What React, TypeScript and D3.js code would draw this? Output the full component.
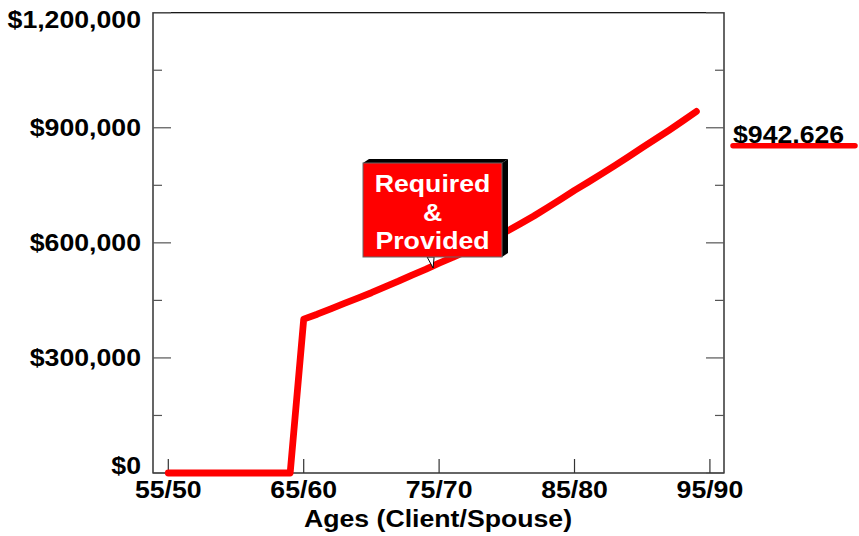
import React from "react";
import * as d3 from "d3";

// Client ages and required capital for each year
const ages: number[] = [
  55, 56, 57, 58, 59, 60, 61, 62, 63, 64,
  65, 66, 67, 68, 69, 70, 71, 72, 73, 74,
  75, 76, 77, 78, 79, 80, 81, 82, 83, 84,
  85, 86, 87, 88, 89, 90, 91, 92, 93, 94,
];
const required: number[] = [
  0, 0, 0, 0, 0, 0, 0, 0, 0, 0,
  401000, 414000, 428000, 442000, 456000, 470000, 485000, 500000, 516000, 531000,
  547000, 562000, 578000, 595000, 612000, 630000, 650000, 670000, 692000, 714000,
  737000, 758000, 780000, 802000, 825000, 848000, 871000, 894000, 918000, 942626,
];

const xTickAges: number[] = [55, 65, 75, 85, 95];
const xTickLabels: string[] = ["55/50", "65/60", "75/70", "85/80", "95/90"];
const yMajorTicks: number[] = [0, 300000, 600000, 900000, 1200000];
const yMinorTicks: number[] = [150000, 450000, 750000, 1050000];
const finalLabel = "$942,626";
const calloutLines: string[] = ["Required", "&", "Provided"];

const W = 859;
const H = 536;
const left = 153;
const right = 724;
const top = 12.7;
const bottom = 473;

const FONT = "'Liberation Sans', Arial, Helvetica, sans-serif";
const FS = 23;
const STRETCH = 1.16;

// Bold label with the wide lettering used across the chart
function Label(props: {
  x: number;
  y: number;
  anchor?: "start" | "middle" | "end";
  fill?: string;
  children: React.ReactNode;
}) {
  const { x, y, anchor = "start", fill = "#000", children } = props;
  return (
    <text
      transform={`translate(${x},${y}) scale(${STRETCH},1)`}
      textAnchor={anchor}
      fontSize={FS}
      fontWeight="bold"
      fill={fill}
    >
      {children}
    </text>
  );
}

export default function App() {
  const x = d3.scaleLinear().domain([53.87, 96.04]).range([left, right]);
  const y = d3.scaleLinear().domain([0, 1200000]).range([bottom, top]);
  const fmt = d3.format(",");

  const pts: [number, number][] = ages.map((a, i) => [a, required[i]]);
  const line = d3
    .line<[number, number]>()
    .x((d) => x(d[0]))
    .y((d) => y(d[1]));

  // callout box geometry
  const bx0 = 363, bx1 = 502, by0 = 163, by1 = 257;
  const dx = 6, dy = -4;
  const tipX = x(75) - 6;
  const tipY = 268;

  return (
    <svg
      width={W}
      height={H}
      style={{ position: "absolute", left: 0, top: 0, background: "#fff" }}
      fontFamily={FONT}
    >
      {/* plot frame */}
      <rect x={left} y={top} width={right - left} height={bottom - top} fill="none" stroke="#000" strokeWidth={1.2} />

      {/* y ticks on both sides */}
      {yMajorTicks.map((v) => (
        <g key={"M" + v} stroke="#555" strokeWidth={1.2}>
          <line x1={left} x2={left + 18} y1={y(v)} y2={y(v)} />
          <line x1={right - 18} x2={right} y1={y(v)} y2={y(v)} />
        </g>
      ))}
      {yMinorTicks.map((v) => (
        <g key={"m" + v} stroke="#555" strokeWidth={1.2}>
          <line x1={left} x2={left + 9} y1={y(v)} y2={y(v)} />
          <line x1={right - 9} x2={right} y1={y(v)} y2={y(v)} />
        </g>
      ))}

      {/* y labels */}
      {yMajorTicks.map((v) => (
        <Label key={"yl" + v} x={141} y={Math.min(474, Math.max(28.3, y(v) + 8))} anchor="end">
          {"$" + fmt(v)}
        </Label>
      ))}

      {/* x ticks and labels */}
      {xTickAges.map((a, i) => (
        <g key={"x" + a}>
          <line x1={x(a)} x2={x(a)} y1={bottom} y2={bottom - 14} stroke="#333" strokeWidth={1.2} />
          <Label x={x(a)} y={498} anchor="middle">
            {xTickLabels[i]}
          </Label>
        </g>
      ))}
      <Label x={438} y={527} anchor="middle">
        Ages (Client/Spouse)
      </Label>

      {/* capital line */}
      <path
        d={line(pts) || ""}
        fill="none"
        stroke="#ff0000"
        strokeWidth={6.8}
        strokeLinejoin="round"
        strokeLinecap="round"
      />

      {/* final value legend */}
      <Label x={733} y={142.5}>
        {finalLabel}
      </Label>
      <line x1={733} x2={855} y1={145.7} y2={145.7} stroke="#ff0000" strokeWidth={5.5} strokeLinecap="round" />

      {/* callout */}
      <polygon
        points={`${tipX - 6},${by1} ${tipX + 1},${by1} ${tipX},${tipY}`}
        fill="#fff"
        stroke="#000"
        strokeWidth={1}
      />
      <polygon
        points={`${bx0},${by0} ${bx0 + dx},${by0 + dy} ${bx1 + dx},${by0 + dy} ${bx1},${by0}`}
        fill="#000"
      />
      <polygon
        points={`${bx1},${by0} ${bx1 + dx},${by0 + dy} ${bx1 + dx},${by1 + dy} ${bx1},${by1}`}
        fill="#000"
      />
      <rect x={bx0} y={by0} width={bx1 - bx0} height={by1 - by0} fill="#ff0000" stroke="#666" strokeWidth={1} />
      {calloutLines.map((t, i) => (
        <Label key={t} x={(bx0 + bx1) / 2} y={191.7 + i * 28.8} anchor="middle" fill="#fff">
          {t}
        </Label>
      ))}
    </svg>
  );
}
